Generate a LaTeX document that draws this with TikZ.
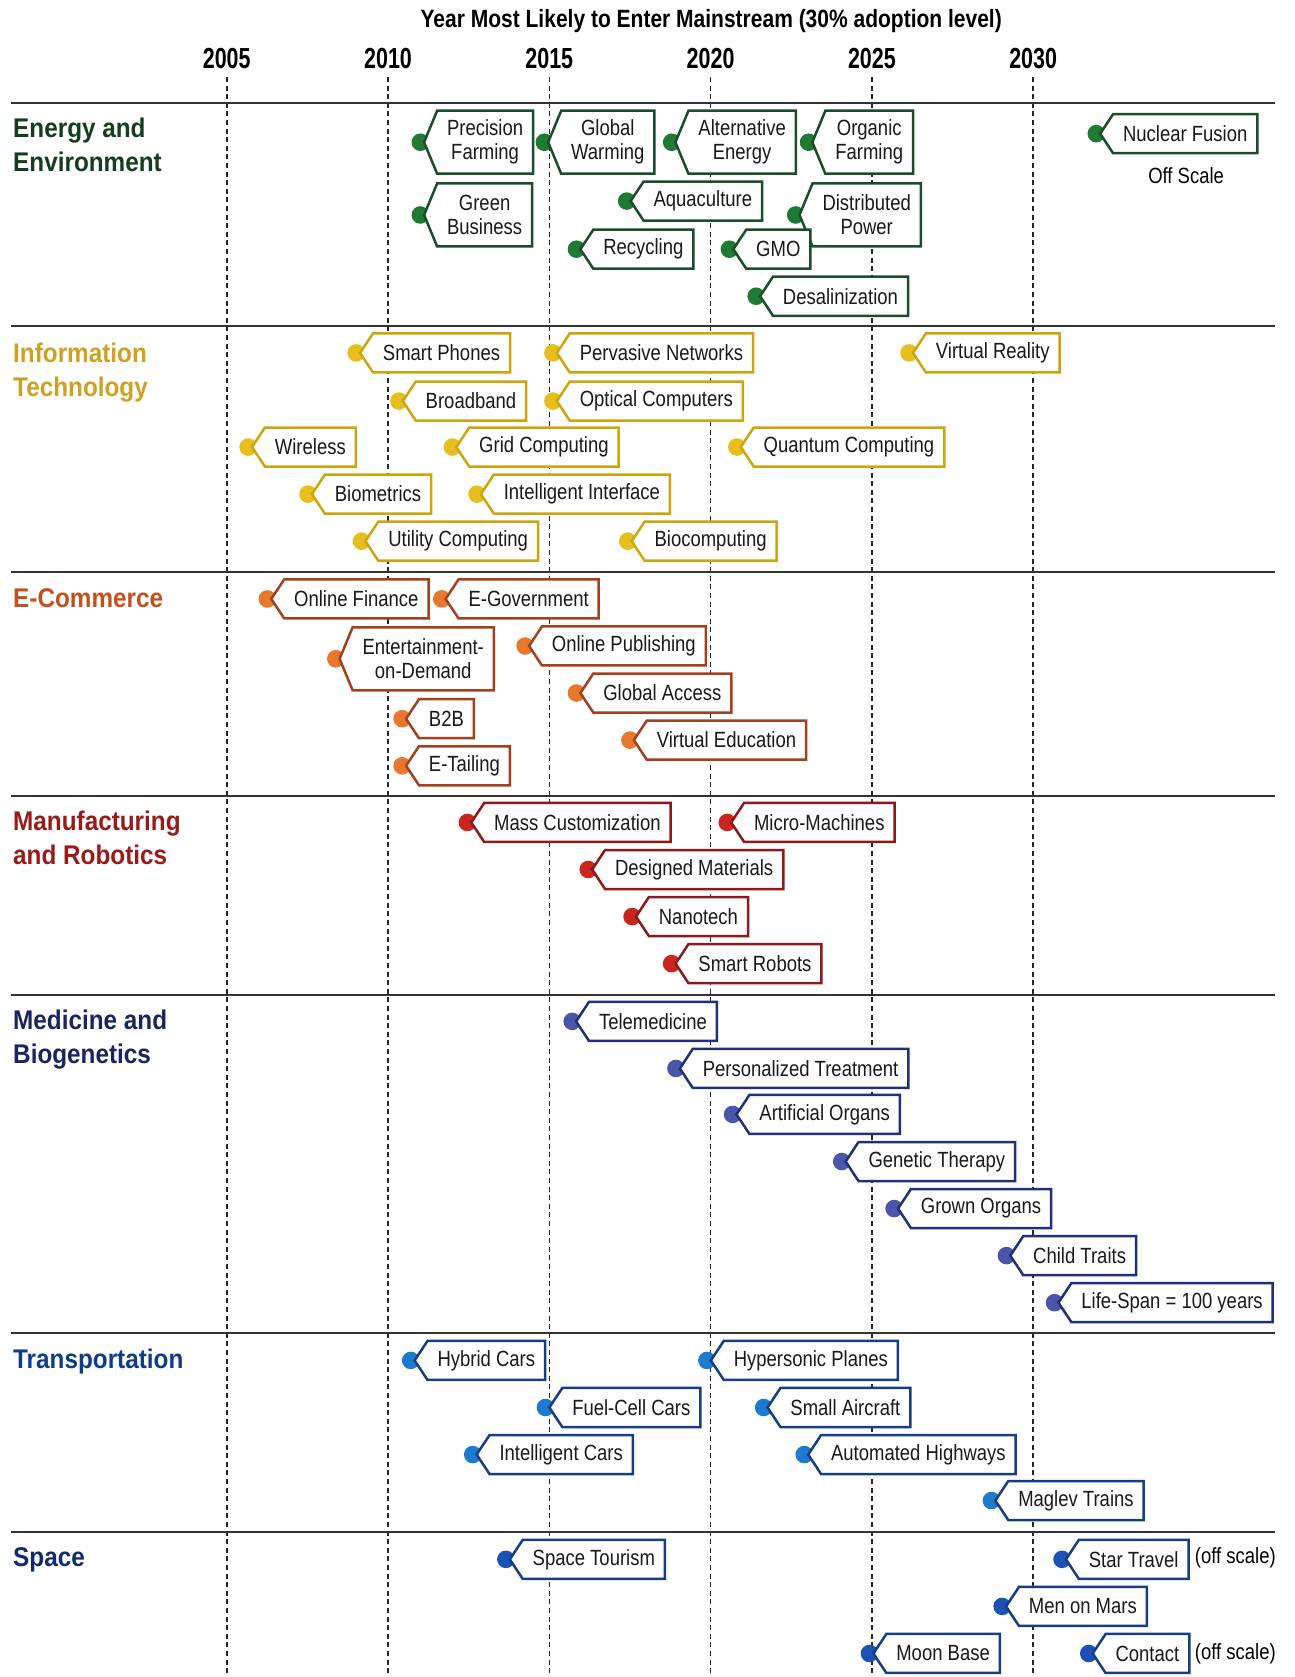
\documentclass[tikz,border=0pt]{standalone}
\usepackage{fontspec}
\setmainfont{Liberation Sans}[FakeStretch=0.84]
\newfontfamily\catfont{Liberation Sans}[FakeStretch=0.9]
\newfontfamily\yearfont{Liberation Sans}[FakeStretch=0.74]
\usetikzlibrary{shapes.symbols}

% category colours: border of the tags, dot, heading
\definecolor{envline}{HTML}{1B4D2A}\definecolor{envdot}{HTML}{1F7A33}\definecolor{envhead}{HTML}{133D1E}
\definecolor{itline}{HTML}{CDA50C}\definecolor{itdot}{HTML}{E6BE1E}\definecolor{ithead}{HTML}{D0A020}
\definecolor{ecline}{HTML}{A5401E}\definecolor{ecdot}{HTML}{E8782E}\definecolor{echead}{HTML}{C4501E}
\definecolor{mrline}{HTML}{8C1A1A}\definecolor{mrdot}{HTML}{C8261E}\definecolor{mrhead}{HTML}{9A1A1A}
\definecolor{mbline}{HTML}{20307A}\definecolor{mbdot}{HTML}{4C56A8}\definecolor{mbhead}{HTML}{1C2460}
\definecolor{trline}{HTML}{153E86}\definecolor{trdot}{HTML}{1E7ACB}\definecolor{trhead}{HTML}{0E3C8C}
\definecolor{spline}{HTML}{153E86}\definecolor{spdot}{HTML}{1C52B5}\definecolor{sphead}{HTML}{0E2A72}

\tikzset{
  tag/.style={shape=signal, signal to=west, signal from=nowhere, signal pointer angle=113,
    draw=#1, line width=1.25pt, fill=white, anchor=west, align=center, text=black!90,
    font=\fontsize{11}{12}\selectfont, inner xsep=5pt, inner ysep=0pt, minimum height=19.5pt},
  tag2/.style={tag=#1, signal pointer angle=135, minimum height=31.5pt},
  dot/.style={circle, fill=#1, inner sep=0pt, minimum size=8.8pt},
  cat/.style={anchor=north west, align=left, inner sep=0pt, text=#1,
    font=\catfont\bfseries\fontsize{13.5}{17.1}\selectfont},
  note/.style={inner sep=0pt, font=\fontsize{11}{12}\selectfont},
  sepline/.style={line width=1pt, black!80},
  yearline/.style={line width=0.8pt, black!85, dash pattern=on 2.5pt off 1.8pt},
}

% a tag: dot first, then the pointed box over it
\newcommand\techtag[5][tag]{%
  \node[dot=#2dot] (#3d) at (#4) {};
  \node[#1=#2line] (#3) at ([xshift=1.2pt]#3d.center) {#5};
}

\begin{document}
\begin{tikzpicture}[x=0.5347pt, y=-0.5347pt]
\useasboundingbox (0,0) rectangle (1210,1568);

% Title and years
\node[font=\bfseries\fontsize{12.5}{14}\selectfont] (title) at (665,20) {Year Most Likely to Enter Mainstream (30\% adoption level)};
\foreach \yr in {2005,2010,...,2030} {
  \node[font=\yearfont\bfseries\fontsize{14.5}{16}\selectfont] (y\yr) at ({212+(\yr-2005)*30.16},55) {\yr};
  \draw[yearline] ({212+(\yr-2005)*30.16},72) -- ({212+(\yr-2005)*30.16},1568);
}

% Separators between the categories
\foreach \ys in {96,305,535,744,930,1246,1432}
  \draw[sepline] (10,\ys) -- (1192,\ys);

% Category headings
\node[cat=envhead] (env) at (12,110) {Energy and\\Environment};
\node[cat=ithead] (it) at (12,320) {Information\\Technology};
\node[cat=echead] (ec) at (12,550) {E-Commerce};
\node[cat=mrhead] (mr) at (12,758) {Manufacturing\\and Robotics};
\node[cat=mbhead] (mb) at (12,944) {Medicine and\\Biogenetics};
\node[cat=trhead] (tr) at (12,1261) {Transportation};
\node[cat=sphead] (sp) at (12,1447) {Space};

% Energy and Environment
\techtag[tag2]{env}{pf}{393,133}{Precision\\Farming}
\techtag[tag2]{env}{gw}{509,133}{Global\\Warming}
\techtag[tag2]{env}{ae}{628,133}{Alternative\\Energy}
\techtag[tag2]{env}{of}{756,133}{Organic\\Farming}
\techtag{env}{nf}{1025,125}{Nuclear Fusion}
\node[note] (nfoff) at (1109,164) {Off Scale};
\techtag[tag2]{env}{gb}{393,201}{Green\\Business}
\techtag{env}{aq}{586,188}{Aquaculture}
\techtag[tag2]{env}{dp}{744,201}{Distributed\\Power}
\techtag{env}{rc}{539,233}{Recycling}
\techtag{env}{gmo}{682,233}{GMO}
\techtag{env}{ds}{707,277}{Desalinization}

% Information Technology
\techtag{it}{sph}{333,330}{Smart Phones}
\techtag{it}{pn}{517,330}{Pervasive Networks}
\techtag{it}{vr}{850,330}{Virtual Reality}
\techtag{it}{bb}{373,375}{Broadband}
\techtag{it}{oc}{517,375}{Optical Computers}
\techtag{it}{wl}{232,418}{Wireless}
\techtag{it}{gc}{423,418}{Grid Computing}
\techtag{it}{qc}{689,418}{Quantum Computing}
\techtag{it}{bm}{288,462}{Biometrics}
\techtag{it}{ii}{446,462}{Intelligent Interface}
\techtag{it}{uc}{338,506}{Utility Computing}
\techtag{it}{bc}{587,506}{Biocomputing}

% E-Commerce
\techtag{ec}{ofi}{250,560}{Online Finance}
\techtag{ec}{eg}{413,560}{E-Government}
\techtag[tag2]{ec}{eod}{314,616}{Entertainment-\\on-Demand}
\techtag{ec}{op}{491,604}{Online Publishing}
\techtag{ec}{ga}{539,648}{Global Access}
\techtag{ec}{btb}{376,672}{B2B}
\techtag{ec}{ve}{589,692}{Virtual Education}
\techtag{ec}{et}{376,716}{E-Tailing}

% Manufacturing and Robotics
\techtag{mr}{mc}{437,769}{Mass Customization}
\techtag{mr}{mm}{680,769}{Micro-Machines}
\techtag{mr}{dm}{550,813}{Designed Materials}
\techtag{mr}{nt}{591,857}{Nanotech}
\techtag{mr}{sr}{628,901}{Smart Robots}

% Medicine and Biogenetics
\techtag{mb}{tm}{535,955}{Telemedicine}
\techtag{mb}{pt}{632,999}{Personalized Treatment}
\techtag{mb}{ao}{685,1042}{Artificial Organs}
\techtag{mb}{gt}{787,1086}{Genetic Therapy}
\techtag{mb}{go}{836,1130}{Grown Organs}
\techtag{mb}{ct}{941,1174}{Child Traits}
\techtag{mb}{ls}{986,1218}{Life-Span = 100 years}

% Transportation
\techtag{tr}{hc}{384,1272}{Hybrid Cars}
\techtag{tr}{hp}{661,1272}{Hypersonic Planes}
\techtag{tr}{fc}{510,1316}{Fuel-Cell Cars}
\techtag{tr}{sa}{714,1316}{Small Aircraft}
\techtag{tr}{ic}{442,1360}{Intelligent Cars}
\techtag{tr}{ah}{752,1360}{Automated Highways}
\techtag{tr}{mt}{927,1403}{Maglev Trains}

% Space
\techtag{sp}{st}{473,1458}{Space Tourism}
\techtag{sp}{stt}{993,1458}{Star Travel}
\node[note] (sttoff) at (1155,1457) {(off scale)};
\techtag{sp}{mom}{937,1502}{Men on Mars}
\techtag{sp}{mb}{813,1546}{Moon Base}
\techtag{sp}{ctc}{1018,1546}{Contact}
\node[note] (ctcoff) at (1155,1546) {(off scale)};

\end{tikzpicture}
\end{document}
